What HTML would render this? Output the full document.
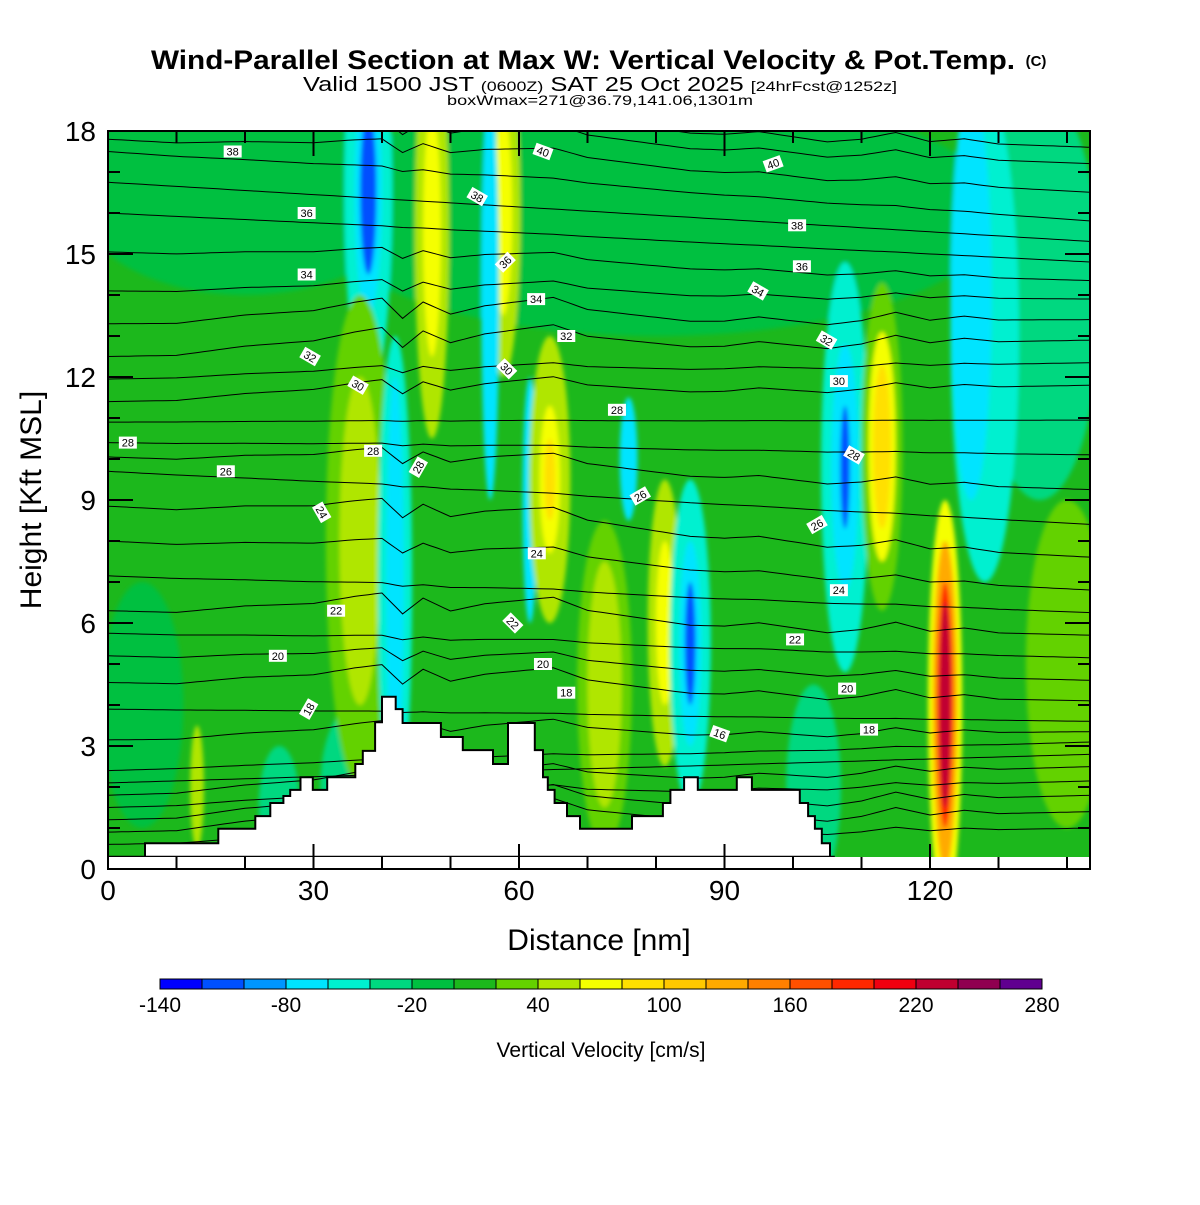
<!DOCTYPE html>
<html><head><meta charset="utf-8"><style>
body{margin:0;background:#fff;width:1200px;height:1200px;overflow:hidden}
svg text{font-family:"Liberation Sans",sans-serif}
</style></head><body>
<svg id="chart" width="1200" height="1200" xmlns="http://www.w3.org/2000/svg">
<defs>
<clipPath id="plotclip"><rect x="108" y="131" width="982" height="738"/></clipPath>
<filter id="soft" x="-20%" y="-20%" width="140%" height="140%"><feGaussianBlur stdDeviation="2"/></filter>
</defs>
<text x="583" y="69" text-anchor="middle" font-size="27" font-weight="bold" textLength="864" lengthAdjust="spacingAndGlyphs">Wind-Parallel Section at Max W: Vertical Velocity &amp; Pot.Temp.</text>
<text x="1036" y="66" text-anchor="middle" font-size="15" font-weight="bold">(C)</text>
<text x="600" y="91" text-anchor="middle" font-size="20" textLength="594" lengthAdjust="spacingAndGlyphs">Valid 1500 JST <tspan font-size="14">(0600Z)</tspan> SAT 25 Oct 2025 <tspan font-size="14">[24hrFcst@1252z]</tspan></text>
<text x="600" y="105" text-anchor="middle" font-size="14" textLength="306" lengthAdjust="spacingAndGlyphs">boxWmax=271@36.79,141.06,1301m</text>
<g id="plot" clip-path="url(#plotclip)">
<rect x="108" y="131" width="982" height="738" fill="#1cb81c"/>
<g id="field" filter="url(#soft)"></g>
<g id="contours"></g>
<polygon id="terrain" fill="#fff" stroke="#000" stroke-width="2"/>
<rect x="108" y="857" width="982" height="12" fill="#fff"/>
<g id="labels"></g>
</g>
<rect x="108" y="131" width="982" height="738" fill="none" stroke="#000" stroke-width="2"/>
<g id="axes"></g>
<text x="599" y="950" text-anchor="middle" font-size="30">Distance [nm]</text>
<text transform="translate(41,500) rotate(-90)" text-anchor="middle" font-size="30">Height [Kft MSL]</text>
<g id="colorbar"></g>
<text x="601" y="1057" text-anchor="middle" font-size="21">Vertical Velocity [cm/s]</text>
</svg>
<script>
const palette=["#0000ff","#0050ff","#0096ff","#00e4ff","#00f0d0","#00d880","#00c040","#1cb81c","#64d200","#b0e600","#f5ff00","#ffe000","#ffc800","#ffaa00","#ff8000","#ff5000","#ff2800","#f00010","#c00030","#900050","#600090"];
const cbTicks=[-140,-80,-20,40,100,160,220,280];
const xTicks=[0,30,60,90,120];
const yTicks=[0,3,6,9,12,15,18];
// features: nm center, kft center, nm half-width, kft half-height, color index
const featNm=[20,80,136,128,126,36,5,140,38,38,38,47.3,47.3,57.7,57.7,55.8,36.8,36.8,41.9,41.9,61.6,64.5,64.5,64.5,76,81.3,81.3,72.5,72.5,85,85,85,107.6,107.6,107.6,113,113,113,122.2,122.2,122.2,122.2,13,25,103];
const featKft=[16.5,16,14,13,14,2,4,5,16.5,16.5,16.5,15.5,15.5,16,16,14,8,8,7,7,9,9.5,9.5,9.5,10,6,6,4.5,4.5,5.5,5.5,5.5,9.8,9.8,9.8,10.3,10.3,10.3,4,4,4,4,2,1.5,2];
const featW=[25,50,9,5,3,5,6,6,3.5,2,1.2,2.5,1.3,2.5,1.3,1.3,5,3,2.5,1.3,1.1,3,1.5,0.8,1.3,2.5,1.3,4,2.5,3,1.6,0.8,3.5,2,0.7,3,2,1.3,2.5,1.8,1.2,0.8,1,3,4];
const featH=[2.5,3,5,6,5,2,3,4,5,3,2,5,3,4,2.5,5,6,4,6,5,3,3.5,1.8,1,1.5,3.5,2,4,3,4,2.5,1.5,5,3,1.5,4,2.8,2,5,4,3,2.5,1.5,1.5,2.5];
const featC=[6,6,5,4,3,5,6,8,4,3,1,9,10,9,10,3,8,9,4,3,3,9,10,11,3,9,10,8,9,4,3,1,4,3,1,8,10,11,10,13,16,18,9,5,5];
// potential temperature levels, heights (kft) at left and right edges
const thetaLevels=[10,12,14,16,18,20,22,24,26,28,30,32,34,36,38,40,42];
const thetaLeft=[0.6,1.2,1.8,2.4,3.9,5.2,6.3,8.0,9.7,10.4,11.4,12.5,14.1,16.0,17.5,18.1,18.8];
const thetaRight=[1.0,1.8,2.5,3.1,3.6,4.6,5.7,6.8,8.4,10.1,11.8,12.9,13.9,14.8,15.8,17.2,18.0];
const pertNm=[0,10,20,30,36,40,43,46,50,55,60,65,70,75,80,85,90,95,100,105,110,115,120,125,130,144];
const pertKft=[0,0,0.2,0.3,0.5,0.6,0.1,0.5,0.2,0.4,0.5,0.6,0.3,0.2,0.1,0,0,0.1,0,-0.1,0,0.2,0,0.1,0,0];
const terrNm=[0,5.4,5.4,16.1,16.1,21.5,21.5,23.7,23.7,25.6,25.6,26.6,26.6,28.1,28.1,29.9,29.9,32,32,36.1,36.1,37.2,37.2,39,39,40,40,42,42,43,43,48.6,48.6,51.8,51.8,56.2,56.2,58.4,58.4,59.3,59.3,62.3,62.3,63.5,63.5,64.2,64.2,65.2,65.2,67,67,68.9,68.9,76.5,76.5,81,81,82.1,82.1,84.1,84.1,86.1,86.1,91.8,91.8,94,94,101,101,102.2,102.2,103.2,103.2,104.2,104.2,105.4,105.4,106.1,106.1,144];
const terrKft=[0.3,0.3,0.63,0.63,0.98,0.98,1.29,1.29,1.61,1.61,1.78,1.78,1.93,1.93,2.24,2.24,1.93,1.93,2.24,2.24,2.56,2.56,2.88,2.88,3.58,3.58,4.2,4.2,3.9,3.9,3.56,3.56,3.22,3.22,2.9,2.9,2.56,2.56,3.56,3.56,3.56,3.56,2.9,2.9,2.24,2.24,1.93,1.93,1.61,1.61,1.29,1.29,0.98,0.98,1.29,1.29,1.61,1.61,1.93,1.93,2.24,2.24,1.93,1.93,2.24,2.24,1.93,1.93,1.61,1.61,1.29,1.29,0.98,0.98,0.63,0.63,0.3,0.3];
const lblNm=[18.2,29,29,29.5,36.5,2.9,38.7,45.3,17.2,31.2,33.3,59.1,24.8,63.5,29.3,66.9,62.6,77.7,74.3,58.2,66.9,62.5,58,53.9,63.5,97.1,100.6,101.3,94.9,104.9,106.7,108.9,103.5,106.7,100.3,107.9,111.1,89.3];
const lblKft=[17.5,16,14.5,12.5,11.8,10.4,10.2,9.8,9.7,8.7,6.3,6.0,5.2,5.0,3.9,4.3,7.7,9.1,11.2,12.2,13,13.9,14.8,16.4,17.5,17.2,15.7,14.7,14.1,12.9,11.9,10.1,8.4,6.8,5.6,4.4,3.4,3.3];
const lblText=["38","36","34","32","30","28","28","28","26","24","22","22","20","20","18","18","24","26","28","30","32","34","36","38","40","40","38","36","34","32","30","28","26","24","22","20","18","16"];
const lblRot=[0,0,0,30,30,0,0,-60,0,60,0,45,0,0,-60,0,0,-30,0,45,0,0,-45,30,20,-20,0,0,30,30,0,30,-30,0,0,0,0,20];

const NS="http://www.w3.org/2000/svg";
const X=nm=>108+nm*6.85, Y=k=>869-k*41;
function mk(t,a,p){const e=document.createElementNS(NS,t);for(const k in a)e.setAttribute(k,a[k]);(p||document.getElementById('chart')).appendChild(e);return e;}
function interp(xs,ys,x){if(x<=xs[0])return ys[0];for(let i=1;i<xs.length;i++){if(x<=xs[i]){const t=(x-xs[i-1])/(xs[i]-xs[i-1]);return ys[i-1]+t*(ys[i]-ys[i-1]);}}return ys[ys.length-1];}

const field=document.getElementById('field');
featNm.forEach((n,i)=>{
 const e=mk('ellipse',{cx:X(n),cy:Y(featKft[i]),rx:featW[i]*6.85,ry:featH[i]*41,fill:palette[featC[i]]},field);
 
 
});

const cg=document.getElementById('contours');
thetaLevels.forEach((lv,i)=>{
 let d='';
 for(let nm=0;nm<=144;nm+=1){
  const t=nm/144;
  const h=thetaLeft[i]+(thetaRight[i]-thetaLeft[i])*t+interp(pertNm,pertKft,nm)*(0.5+0.5*Math.sin(i*1.3));
  d+=(nm?'L':'M')+X(nm).toFixed(1)+' '+Y(h).toFixed(1);
 }
 const p=mk('path',{d:d,fill:'none',stroke:'#000','stroke-width':1},cg);
 
 
 if(i<thetaLevels.length-1){
  let d2='';
  for(let nm=0;nm<=144;nm+=1){
   const t=nm/144;
   const a=thetaLeft[i]+(thetaRight[i]-thetaLeft[i])*t, b=thetaLeft[i+1]+(thetaRight[i+1]-thetaLeft[i+1])*t;
   const h=(a+b)/2+interp(pertNm,pertKft,nm)*(0.5+0.5*Math.cos(i*1.7));
   d2+=(nm?'L':'M')+X(nm).toFixed(1)+' '+Y(h).toFixed(1);
  }
  const p2=mk('path',{d:d2,fill:'none',stroke:'#000','stroke-width':1},cg);
  
  
 }
});

document.getElementById('terrain').setAttribute('points',
 terrNm.map((n,i)=>X(n).toFixed(1)+','+Y(terrKft[i]).toFixed(1)).join(' ')+' '+X(144)+','+Y(0)+' '+X(0)+','+Y(0));

const lg=document.getElementById('labels');
lblNm.forEach((n,i)=>{
 const g=mk('g',{transform:`translate(${X(n)},${Y(lblKft[i])}) rotate(${lblRot[i]})`},lg);
 
 
 mk('rect',{x:-9,y:-6,width:18,height:12,fill:'#fff'},g);
 const t=mk('text',{x:0,y:4,'text-anchor':'middle','font-size':11},g);
 t.textContent=lblText[i];
});

const ax=document.getElementById('axes');
for(let nm=0;nm<=143;nm+=10){
 const maj=nm%30===0, L=maj?25:12;
 mk('line',{x1:X(nm),y1:869,x2:X(nm),y2:869-L,stroke:'#000','stroke-width':2},ax);
 mk('line',{x1:X(nm),y1:131,x2:X(nm),y2:131+L,stroke:'#000','stroke-width':2},ax);
}
xTicks.forEach(v=>{
 const t=mk('text',{x:X(v),y:900,'text-anchor':'middle','font-size':28},ax);
 
 
 t.textContent=v;
});
for(let k=0;k<=18;k++){
 const maj=k%3===0, L=maj?25:12;
 mk('line',{x1:108,y1:Y(k),x2:108+L,y2:Y(k),stroke:'#000','stroke-width':2},ax);
 mk('line',{x1:1090,y1:Y(k),x2:1090-L,y2:Y(k),stroke:'#000','stroke-width':2},ax);
}
yTicks.forEach(v=>{
 const t=mk('text',{x:96,y:Y(v)+10,'text-anchor':'end','font-size':28},ax);
 
 
 t.textContent=v;
});

const cb=document.getElementById('colorbar');
palette.forEach((c,i)=>{
 const r=mk('rect',{x:160+i*42,y:979,width:42,height:10,fill:c,stroke:'#000','stroke-width':1},cb);
 
 
});
cbTicks.forEach(v=>{
 const t=mk('text',{x:160+(v+140)/20*42,y:1012,'text-anchor':'middle','font-size':21},cb);
 
 
 t.textContent=v;
});
</script>
</body></html>
